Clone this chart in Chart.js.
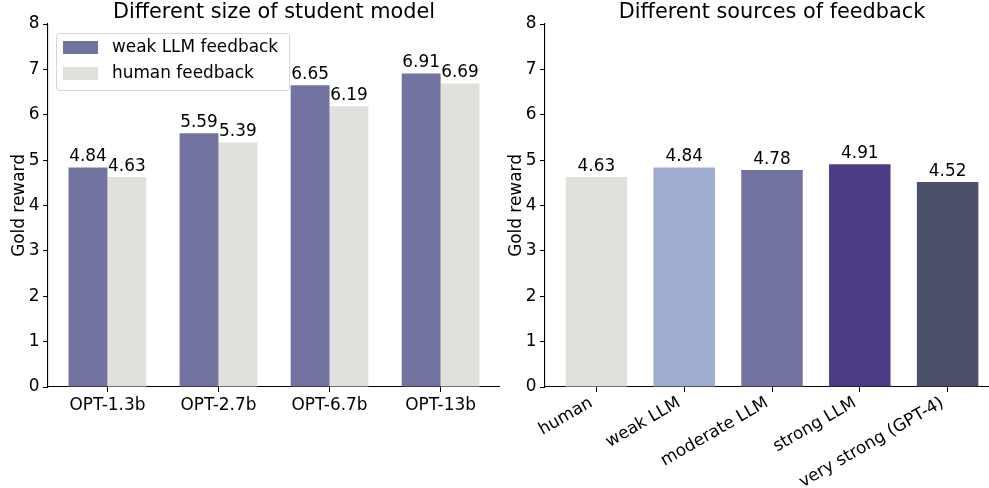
<!DOCTYPE html>
<html><head><meta charset="utf-8">
<script src="https://cdn.jsdelivr.net/npm/chart.js@4.4.1/dist/chart.umd.min.js"></script>
<style>
html,body{margin:0;padding:0;background:#fff;overflow:hidden;width:989px;height:488px;}
#wrap{position:relative;width:989px;height:488px;overflow:hidden;background:#fff;}
#c1{position:absolute;left:0;top:0;}
#c2{position:absolute;left:497px;top:0;}
</style></head><body>
<div id="wrap">
<canvas id="c1" width="500" height="488"></canvas>
<canvas id="c2" width="502" height="488"></canvas>
</div>
<script>
// ---- data ----
const models = ['OPT-1.3b', 'OPT-2.7b', 'OPT-6.7b', 'OPT-13b'];
const weakLLMFeedback = [4.84, 5.59, 6.65, 6.91];
const humanFeedback = [4.63, 5.39, 6.19, 6.69];
const seriesNames = ['weak LLM feedback', 'human feedback'];
const sources = ['human', 'weak LLM', 'moderate LLM', 'strong LLM', 'very strong (GPT-4)'];
const sourceRewards = [4.63, 4.84, 4.78, 4.91, 4.52];
const yMin = 0, yMax = 8, yStep = 1;
const titles = ['Different size of student model', 'Different sources of feedback'];
const yTitle = 'Gold reward';

// ---- styles ----
const FONT = 'DejaVu Sans';
const PURPLE = '#7373a1', GREY = '#e0e0dc';
const sourceColors = ['#e0e0dc', '#9eadcf', '#7373a1', '#4e3b85', '#4a4f6a'];
const BAR_FRAC = 0.7;
const TICK_SIZE = 16.9, TITLE_SIZE = 20.8;
Chart.defaults.font.family = FONT;
Chart.defaults.color = '#000';
Chart.defaults.devicePixelRatio = 1;

const toPts = vals => vals.map((v, i) => ({x: i, y: v}));

function xScale(labels, rot) {
  const n = labels.length;
  const pad = BAR_FRAC / 2 + 0.05 * (n - 1 + BAR_FRAC);
  return {
    type: 'linear', min: -pad, max: n - 1 + pad, offset: false,
    afterBuildTicks: s => { s.ticks = labels.map((_, i) => ({value: i})); },
    afterFit: s => { s.height = 101; s.paddingLeft = 0; s.paddingRight = 0; },
    ticks: {
      callback: v => labels[v], autoSkip: false,
      minRotation: rot, maxRotation: rot,
      labelOffset: rot ? -5 : 0,
      font: {size: TICK_SIZE}, color: '#000', padding: rot ? 1 : 3
    },
    grid: {offset: false, drawOnChartArea: false, drawTicks: true, tickLength: 5, color: '#000', lineWidth: 1},
    border: {color: '#000', width: 1.1}
  };
}
function yScale() {
  return {
    min: yMin, max: yMax,
    afterFit: s => { s.width = 48; },
    ticks: {stepSize: yStep, font: {size: TICK_SIZE}, color: '#000', padding: 3.5},
    grid: {drawOnChartArea: false, drawTicks: true, tickLength: 5, color: '#000', lineWidth: 1},
    border: {color: '#000', width: 1.1},
    title: {display: true, text: yTitle, font: {size: TICK_SIZE}, color: '#000', padding: {top: 9, bottom: 0}}
  };
}
function titleOpts(t) {
  return {display: true, text: t, fullSize: false, padding: {top: 2, bottom: 0}, color: '#000',
    font: {size: TITLE_SIZE, weight: 'normal', lineHeight: 22 / TITLE_SIZE}};
}

const valueLabels = {
  id: 'valueLabels',
  afterDatasetsDraw(chart) {
    const ctx = chart.ctx;
    ctx.save();
    ctx.font = TICK_SIZE + 'px "' + FONT + '"';
    ctx.fillStyle = '#000';
    ctx.textAlign = 'center';
    ctx.textBaseline = 'alphabetic';
    chart.data.datasets.forEach((ds, di) => {
      chart.getDatasetMeta(di).data.forEach((el, i) => {
        ctx.fillText(ds.data[i].y.toFixed(2), el.x, el.y - 6);
      });
    });
    ctx.restore();
  }
};

const boxLegend = {
  id: 'boxLegend',
  afterDatasetsDraw(chart) {
    const ctx = chart.ctx, a = chart.chartArea;
    const x0 = a.left + 8, y0 = a.top + 9, w = 233, h = 57;
    ctx.save();
    ctx.beginPath();
    ctx.roundRect(x0 + 0.5, y0 + 0.5, w, h, 3);
    ctx.fillStyle = 'rgba(255,255,255,0.8)';
    ctx.fill();
    ctx.strokeStyle = '#d6d6d6';
    ctx.lineWidth = 1;
    ctx.stroke();
    ctx.font = TICK_SIZE + 'px "' + FONT + '"';
    ctx.textBaseline = 'middle';
    ctx.textAlign = 'left';
    chart.data.datasets.forEach((ds, i) => {
      const py = a.top + 17 + i * 26;
      ctx.fillStyle = ds.backgroundColor;
      ctx.fillRect(a.left + 15, py, 35, 13);
      ctx.fillStyle = '#000';
      ctx.fillText(ds.label, a.left + 64, py + 7);
    });
    ctx.restore();
  }
};

new Chart(document.getElementById('c1'), {
  type: 'bar',
  data: {
    datasets: [
      {label: seriesNames[0], data: toPts(weakLLMFeedback), backgroundColor: PURPLE},
      {label: seriesNames[1], data: toPts(humanFeedback), backgroundColor: GREY}
    ]
  },
  options: {
    responsive: false, animation: false,
    layout: {padding: 0},
    datasets: {bar: {categoryPercentage: BAR_FRAC, barPercentage: 1}},
    scales: {x: xScale(models, 0), y: yScale()},
    plugins: {legend: {display: false}, tooltip: {enabled: false}, title: titleOpts(titles[0])}
  },
  plugins: [valueLabels, boxLegend]
});

new Chart(document.getElementById('c2'), {
  type: 'bar',
  data: {
    datasets: [
      {label: 'reward', data: toPts(sourceRewards), backgroundColor: sourceColors}
    ]
  },
  options: {
    responsive: false, animation: false,
    layout: {padding: 0},
    datasets: {bar: {categoryPercentage: BAR_FRAC, barPercentage: 1}},
    scales: {x: xScale(sources, 30), y: yScale()},
    plugins: {legend: {display: false}, tooltip: {enabled: false}, title: titleOpts(titles[1])}
  },
  plugins: [valueLabels]
});
</script>
</body></html>
